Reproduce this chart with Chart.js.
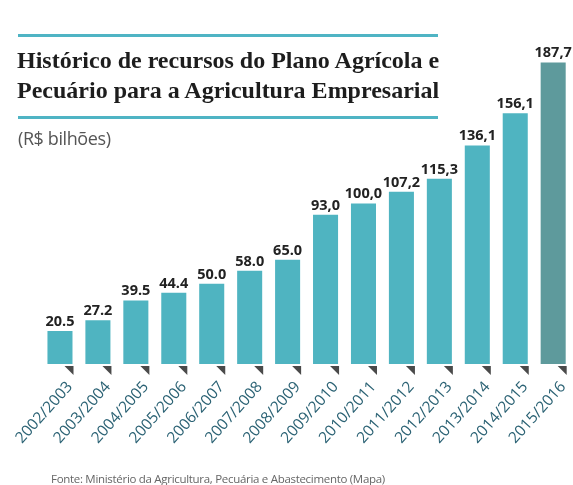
<!DOCTYPE html>
<html>
<head>
<meta charset="utf-8">
<script src="https://cdn.jsdelivr.net/npm/chart.js@4"></script>
<style>
  body { margin: 0; background: #fff; }
  #wrap { position: relative; width: 573px; height: 485px; }
  #wrap canvas { position: absolute; left: 0; top: 0; }
  .rule { position: absolute; left: 18px; width: 420px; height: 3px; background: #4fb4c4; }
  #title { position: absolute; left: 17px; top: 45px; font: bold 24px "Liberation Serif"; line-height: 30px; color: #1d1d1d; white-space: nowrap; }
  #unit { position: absolute; left: 18px; top: 126px; font: 18px "Open Sans"; color: #555; letter-spacing: -0.4px; }
  #source { position: absolute; left: 51px; top: 471px; font: 11.5px "Open Sans"; color: #666; letter-spacing: -0.3px; white-space: nowrap; }
</style>
</head>
<body>
<div id="wrap">
  <canvas id="resourcesChart" width="573" height="485"></canvas>
  <div class="rule" style="top:34px"></div>
  <div id="title">Histórico de recursos do Plano Agrícola e<br>Pecuário para a Agricultura Empresarial</div>
  <div class="rule" style="top:116px"></div>
  <div id="unit">(R$ bilhões)</div>
  <div id="source">Fonte: Ministério da Agricultura, Pecuária e Abastecimento (Mapa)</div>
</div>
<script>
// Safras (anos-safra) e recursos em R$ bilhões
const seasons = ["2002/2003", "2003/2004", "2004/2005", "2005/2006", "2006/2007", "2007/2008", "2008/2009",
                 "2009/2010", "2010/2011", "2011/2012", "2012/2013", "2013/2014", "2014/2015", "2015/2016"];
const resources = [20.5, 27.2, 39.5, 44.4, 50.0, 58.0, 65.0, 93.0, 100.0, 107.2, 115.3, 136.1, 156.1, 187.7];
const valueLabels = ["20.5", "27.2", "39.5", "44.4", "50.0", "58.0", "65.0",
                     "93,0", "100,0", "107,2", "115,3", "136,1", "156,1", "187,7"];

const barColors = resources.map((v, i) => i === resources.length - 1 ? "#5e9a9c" : "#4fb4c1");

// value labels above bars + little dark triangles under each bar
const barExtras = {
    id: "barExtras",
    afterDatasetsDraw(chart) {
        const ctx = chart.ctx;
        const base = chart.scales.y.getPixelForValue(0);
        ctx.save();
        chart.getDatasetMeta(0).data.forEach((bar, i) => {
            const half = bar.width / 2;
            ctx.fillStyle = "#222";
            ctx.font = "bold 14.5px 'Open Sans'";
            ctx.textAlign = "center";
            ctx.textBaseline = "bottom";
            ctx.fillText(valueLabels[i], bar.x, bar.y - 2);

            ctx.fillStyle = "#4a4a4a";
            ctx.beginPath();
            ctx.moveTo(bar.x + half - 8, base + 2);
            ctx.lineTo(bar.x + half + 1, base + 2);
            ctx.lineTo(bar.x + half + 1, base + 11);
            ctx.closePath();
            ctx.fill();
        });
        ctx.restore();
    },
};

const ctx = document.getElementById("resourcesChart").getContext("2d");
new Chart(ctx, {
    type: "bar",
    data: {
        labels: seasons,
        datasets: [
            {
                data: resources,
                backgroundColor: barColors,
                borderWidth: 0,
                barPercentage: 0.66,
                categoryPercentage: 1,
            },
        ],
    },
    options: {
        responsive: false,
        animation: false,
        layout: {
            padding: { left: 41, right: 0, top: 30, bottom: 36 },
        },
        plugins: {
            legend: { display: false },
            tooltip: { enabled: false },
        },
        scales: {
            x: {
                grid: { display: false },
                border: { display: false },
                afterFit: (scale) => { scale.height = 85; },
                ticks: {
                    autoSkip: false,
                    minRotation: 48,
                    maxRotation: 48,
                    labelOffset: 10,
                    padding: 6,
                    color: "#2b6274",
                    font: { family: "Open Sans", size: 15.5 },
                },
            },
            y: {
                display: false,
                min: 0,
                max: 208,
            },
        },
    },
    plugins: [barExtras],
});
</script>
</body>
</html>
